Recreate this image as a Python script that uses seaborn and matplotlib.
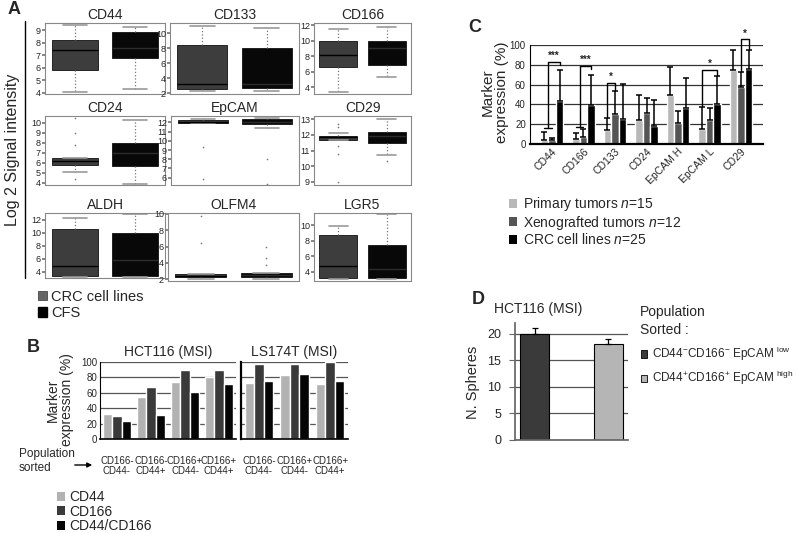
import numpy as np
import pandas as pd
import matplotlib
matplotlib.use('Agg')
import matplotlib.pyplot as plt
from matplotlib.patches import Patch
import seaborn as sns

# ---------------- data ----------------
# Panel A: box statistics (whislo, q1, median, q3, whishi) and outliers
a_markers = ['CD44', 'CD133', 'CD166', 'CD24', 'EpCAM', 'CD29', 'ALDH', 'OLFM4', 'LGR5']
a_crc = [[4.1, 5.8, 7.4, 8.2, 9.4], [2.3, 2.6, 3.3, 8.5, 11.0], [3.3, 6.6, 8.1, 10.0, 11.5],
         [5.1, 5.8, 6.2, 6.5, 6.5], [11.9, 11.9, 12.1, 12.3, 12.4], [11.7, 11.7, 11.85, 11.95, 12.1],
         [3.2, 3.3, 4.8, 10.5, 12.2], [2.1, 2.3, 2.45, 2.6, 2.6], [3.0, 3.2, 4.8, 8.7, 9.9]]
a_cfs = [[4.3, 6.75, 7.6, 8.85, 9.3], [2.3, 2.65, 3.2, 8.1, 10.7], [5.3, 6.9, 9.0, 10.0, 11.8],
         [3.9, 5.7, 7.0, 8.05, 10.3], [11.4, 11.8, 12.1, 12.4, 12.45], [10.7, 11.5, 11.9, 12.2, 13.0],
         [3.2, 3.3, 5.8, 10.0, 12.8], [2.1, 2.3, 2.5, 2.75, 2.8], [3.0, 3.2, 4.4, 7.5, 11.5]]
a_crc_out = [[], [], [], [4.4, 7.8, 9.0, 10.5], [9.3, 5.9], [12.7, 12.5, 11.3, 10.8, 9.0],
             [], [6.4, 9.7], []]
a_cfs_out = [[], [], [], [], [8.0, 5.3], [10.35], [], [6.0, 4.6, 3.8], []]
a_ylim = [(3.9, 9.6), (1.9, 11.4), (3.1, 12.3), (3.8, 10.7), (5.2, 12.7), (8.8, 13.2),
          (3.0, 13.0), (1.8, 10.1), (2.8, 11.6)]
a_ticks = [range(4, 10), range(2, 11, 2), range(4, 13, 2), range(4, 11), range(6, 13),
           range(9, 14), range(4, 13, 2), range(2, 11, 2), range(4, 11, 2)]

# Panel B: marker expression (%) of sorted populations
b_markers = ['CD44', 'CD166', 'CD44/CD166']
b_hct_groups = ['CD166-\nCD44-', 'CD166-\nCD44+', 'CD166+\nCD44-', 'CD166+\nCD44+']
b_hct_values = [[33, 30, 23], [55, 68, 31], [74, 89, 61], [81, 89, 72]]
b_ls_groups = ['CD166-\nCD44-', 'CD166+\nCD44-', 'CD166+\nCD44+']
b_ls_values = [[73, 97, 75], [83, 97, 85], [71, 100, 75]]

# Panel C: marker expression (%) per sample type, with upper error
c_markers = ['CD44', 'CD166', 'CD133', 'CD24', 'EpCAM H', 'EpCAM L', 'CD29']
c_groups = ['Primary tumors $n$=15', 'Xenografted tumors $n$=12', 'CRC cell lines $n$=25']
c_primary = [4, 5, 14, 24, 49, 15, 75]
c_xeno = [4, 7, 30, 31, 21, 24, 58]
c_crc = [43, 39, 25, 18, 36, 40, 76]
c_primary_top = [12, 11, 26, 49, 78, 37, 95]
c_xeno_top = [6, 15, 54, 46, 33, 36, 73]
c_crc_top = [75, 70, 61, 44, 67, 69, 95]

# Panel D: number of spheres
d_pops = [r'CD44$^{-}$CD166$^{-}$ EpCAM $^{\mathrm{low}}$',
          r'CD44$^{+}$CD166$^{+}$ EpCAM $^{\mathrm{high}}$']
d_values = [20, 18]
d_tops = [21.1, 18.9]

# ---------------- style ----------------
sns.set_theme(style='white')
plt.rcParams['font.family'] = ['Liberation Sans', 'DejaVu Sans']
plt.rcParams['mathtext.fontset'] = 'custom'
plt.rcParams['mathtext.rm'] = 'Liberation Sans'
plt.rcParams['mathtext.it'] = 'Liberation Sans:italic'

W, H = 796, 533
fig = plt.figure(figsize=(W / 100, H / 100), dpi=100)
fig.patch.set_facecolor('white')


def px_axes(l, t, r, b):
    return fig.add_axes([l / W, 1 - b / H, (r - l) / W, (b - t) / H])


def px_text(x, y, s, **kw):
    return fig.text(x / W, 1 - y / H, s, **kw)


CRC_COL, CFS_COL = '#3d3d3d', '#080808'

# ---------------- panel A ----------------
a_rects = [(45, 23, 165, 94), (170, 23, 299, 94), (314, 23, 411, 94),
           (45, 116, 165, 185), (171, 116, 299, 185), (314, 116, 411, 185),
           (45, 213, 165, 278), (168, 213, 299, 281), (314, 213, 411, 281)]

for i, name in enumerate(a_markers):
    ax = px_axes(*a_rects[i])
    stats = []
    for vals, outs in ((a_crc[i], a_crc_out[i]), (a_cfs[i], a_cfs_out[i])):
        stats.append(dict(whislo=vals[0], q1=vals[1], med=vals[2], q3=vals[3],
                          whishi=vals[4], fliers=outs))
    bp = ax.bxp(stats, positions=[1, 2], widths=0.78, patch_artist=True,
                boxprops=dict(edgecolor='#111111', linewidth=0.6),
                whiskerprops=dict(color='#777777', linestyle=':', linewidth=0.9),
                capprops=dict(color='#999999', linewidth=1.2),
                medianprops=dict(color='#000000', linewidth=1.0),
                flierprops=dict(marker='o', markersize=1.2, markerfacecolor='#777777',
                                markeredgecolor='none'))
    bp['boxes'][0].set_facecolor(CRC_COL)
    bp['boxes'][1].set_facecolor(CFS_COL)
    bp['medians'][1].set_color('#2c2c2c')
    ax.set_xlim(0.5, 2.5)
    ax.set_ylim(*a_ylim[i])
    ax.set_yticks(list(a_ticks[i]))
    ax.set_xticks([])
    ax.tick_params(axis='y', labelsize=6.5, length=2, pad=1, left=True, color='#777777')
    for sp in ax.spines.values():
        sp.set_color('#888888')
        sp.set_linewidth(0.8)
    ax.set_title(name, fontsize=10, pad=3)

px_text(8, 10, 'A', fontsize=13, fontweight='bold', va='center')
px_text(13, 150, 'Log 2 Signal intensity', fontsize=11.5, rotation=90, ha='center', va='center')
fig.add_artist(plt.Line2D([25 / W, 25 / W], [1 - 21 / H, 1 - 278 / H], color='black', lw=1))
fig.legend(handles=[Patch(facecolor='#666666', edgecolor='#333333', lw=0.5),
                    Patch(facecolor='#000000', edgecolor='#000000')],
           labels=['CRC cell lines', 'CFS'], loc='upper left',
           bbox_to_anchor=(38 / W, 1 - 290 / H), frameon=False, fontsize=10.5,
           handlelength=0.6, handleheight=0.6, handletextpad=0.3, labelspacing=0.15,
           borderpad=0, borderaxespad=0)

# ---------------- panel B ----------------
b_palette = ['#b2b2b2', '#3a3a3a', '#050505']


def long_b(groups, values):
    rows = []
    for g, vals in zip(groups, values):
        for m, v in zip(b_markers, vals):
            rows.append({'group': g, 'marker': m, 'value': v})
    return pd.DataFrame(rows)


axb1 = px_axes(100, 362, 236, 439)
axb2 = px_axes(241, 362, 348, 439)
for ax, groups, values, title in ((axb1, b_hct_groups, b_hct_values, 'HCT116 (MSI)'),
                                  (axb2, b_ls_groups, b_ls_values, 'LS174T (MSI)')):
    sns.barplot(data=long_b(groups, values), x='group', y='value', hue='marker',
                palette=b_palette, width=0.8, saturation=1, errorbar=None,
                legend=False, ax=ax)
    ax.set_ylim(0, 100)
    ax.set_yticks(range(0, 101, 20))
    ax.yaxis.grid(True, color='#555555', lw=0.9)
    ax.set_axisbelow(True)
    ax.set_xlabel('')
    ax.set_ylabel('')
    ax.tick_params(axis='x', length=0, labelsize=7, pad=12)
    for lab in ax.get_xticklabels():
        lab.set_linespacing(1.1)
    ax.spines['top'].set_visible(False)
    ax.spines['right'].set_visible(False)
    ax.spines['bottom'].set_color('black')
    ax.spines['bottom'].set_linewidth(1.2)
    ax.set_title(title, fontsize=10, pad=4)
axb1.tick_params(axis='y', labelsize=7, length=0, pad=2)
axb1.spines['left'].set_color('black')
axb1.spines['left'].set_linewidth(0.8)
axb2.set_yticklabels([])
axb2.tick_params(axis='y', length=0)
axb2.spines['left'].set_color('black')
axb2.spines['left'].set_linewidth(1.6)

px_text(27, 348, 'B', fontsize=13, fontweight='bold', va='center')
px_text(60, 400, 'Marker\nexpression (%)', fontsize=10, rotation=90, ha='center',
        va='center', linespacing=1.0)
px_text(19, 461, 'Population\nsorted', fontsize=8.5, va='center', linespacing=1.3)
fig.add_artist(matplotlib.patches.FancyArrowPatch((72 / W, 1 - 465 / H), (95 / W, 1 - 465 / H),
                                                  arrowstyle='-|>', mutation_scale=7,
                                                  color='black', lw=1))
fig.legend(handles=[Patch(facecolor=c, edgecolor='none') for c in b_palette],
           labels=b_markers, loc='upper left', bbox_to_anchor=(57 / W, 1 - 490 / H),
           frameon=False, fontsize=10, handlelength=0.6, handleheight=0.6,
           handletextpad=0.3, labelspacing=0.05, borderpad=0, borderaxespad=0)

# ---------------- panel C ----------------
c_palette = ['#b8b8b8', '#555555', '#000000']
rows = []
for k, m in enumerate(c_markers):
    for g, vals in zip(c_groups, (c_primary, c_xeno, c_crc)):
        rows.append({'marker': m, 'group': g, 'value': vals[k]})
df_c = pd.DataFrame(rows)

axc = px_axes(530, 45, 763, 144)
sns.barplot(data=df_c, x='marker', y='value', hue='group', palette=c_palette,
            width=0.72, saturation=1, errorbar=None, legend=False, ax=axc)
centers = []
for cont, tops in zip(axc.containers, (c_primary_top, c_xeno_top, c_crc_top)):
    xs = [bar.get_x() + bar.get_width() / 2 for bar in cont]
    hs = [bar.get_height() for bar in cont]
    centers.append(xs)
    axc.errorbar(xs, hs, yerr=[np.zeros(len(hs)), np.array(tops) - np.array(hs)],
                 fmt='none', ecolor='black', elinewidth=1.1, capsize=2.5, capthick=1.1)
axc.set_ylim(0, 100)
axc.set_yticks(range(0, 101, 20))
axc.yaxis.grid(True, color='#333333', lw=0.9)
axc.set_axisbelow(True)
axc.set_xlabel('')
axc.set_ylabel('')
axc.tick_params(axis='y', labelsize=7, length=0, pad=3)
axc.tick_params(axis='x', labelsize=7.5, length=0, pad=2)
plt.setp(axc.get_xticklabels(), rotation=45, ha='right', rotation_mode='anchor')
axc.spines['top'].set_visible(False)
axc.spines['right'].set_visible(False)
axc.spines['left'].set_color('black')
axc.spines['left'].set_linewidth(0.8)
axc.spines['bottom'].set_color('black')
axc.spines['bottom'].set_linewidth(1.6)

# significance brackets: (marker index, left bar, right bar, height, left leg end, right leg end, stars)
brackets = [(0, 'pair', 2, 83, 16, 80, '***'), (1, 'pair', 2, 79, 17, 76, '***'),
            (2, 0, 1, 62, 27, 55, '*'), (5, 0, 2, 75, 38, 70, '*'), (6, 1, 2, 106, 74, 96, '*')]
for k, left, right, h, lb, rb, stars in brackets:
    if left == 'pair':
        xl = (centers[0][k] + centers[1][k]) / 2
        axc.plot([centers[0][k], centers[1][k]], [lb, lb], color='black', lw=1, clip_on=False)
    else:
        xl = centers[left][k]
    xr = centers[right][k]
    axc.plot([xl, xl, xr, xr], [lb, h, h, rb], color='black', lw=1, clip_on=False)
    axc.text((xl + xr) / 2, h + 0.5, stars, ha='center', va='bottom', fontsize=7,
             fontweight='bold', clip_on=False)

px_text(468, 27, 'C', fontsize=13, fontweight='bold', va='center')
px_text(495, 92, 'Marker\nexpression (%)', fontsize=11, rotation=90, ha='center',
        va='center', linespacing=1.0)
fig.legend(handles=[Patch(facecolor=c, edgecolor='none') for c in c_palette],
           labels=c_groups, loc='upper left', bbox_to_anchor=(509 / W, 1 - 195 / H),
           frameon=False, fontsize=10, handlelength=0.6, handleheight=0.6,
           handletextpad=0.4, labelspacing=0.05, borderpad=0, borderaxespad=0)

# ---------------- panel D ----------------
d_palette = ['#3a3a3a', '#b5b5b5']
axd = px_axes(515, 323, 628, 440)
sns.barplot(x=d_pops, y=d_values, hue=d_pops, palette=d_palette, width=0.4, saturation=1,
            errorbar=None, legend=False, edgecolor='black', linewidth=0.8, ax=axd)
dx = [bar.get_x() + bar.get_width() / 2 for cont in axd.containers for bar in cont]
axd.errorbar(dx, d_values, yerr=[np.zeros(2), np.array(d_tops) - np.array(d_values)],
             fmt='none', ecolor='black', elinewidth=0.9, capsize=2.5, capthick=0.9)
axd.set_ylim(0, 22)
axd.set_yticks(range(0, 21, 5))
axd.yaxis.grid(True, color='#555555', lw=0.9)
axd.set_axisbelow(True)
axd.set_xticks([])
axd.set_ylabel('')
axd.tick_params(axis='y', labelsize=9, length=4, width=0.8, color='#666666', pad=6, left=True)
axd.spines['top'].set_visible(False)
axd.spines['right'].set_visible(False)
axd.spines['left'].set_color('#666666')
axd.spines['bottom'].set_color('#666666')

px_text(472, 299, 'D', fontsize=13, fontweight='bold', va='center')
px_text(494, 309, 'HCT116 (MSI)', fontsize=10, va='center')
px_text(473, 382, 'N. Spheres', fontsize=10.5, rotation=90, ha='center', va='center')
px_text(640, 321, 'Population\nSorted :', fontsize=10, va='center', linespacing=1.4)
fig.legend(handles=[Patch(facecolor=c, edgecolor='black', lw=0.6) for c in d_palette],
           labels=d_pops, loc='upper left', bbox_to_anchor=(641 / W, 1 - 345 / H),
           frameon=False, fontsize=8.5, handlelength=0.55, handleheight=0.55,
           handletextpad=0.4, labelspacing=0.5, borderpad=0, borderaxespad=0)

fig.savefig('out.png', dpi=100, facecolor='white')
